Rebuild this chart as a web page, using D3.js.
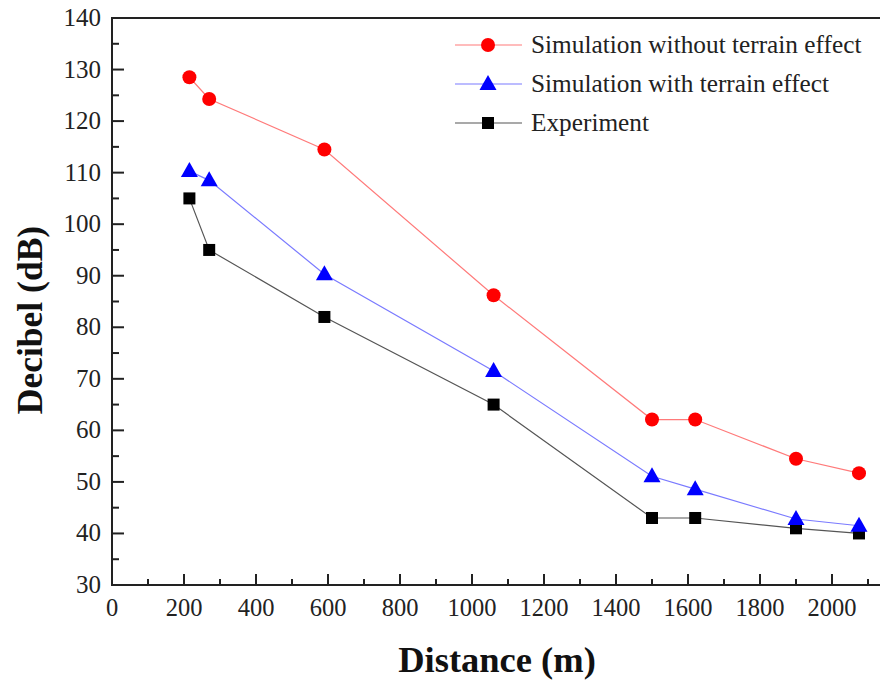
<!DOCTYPE html>
<html>
<head>
<meta charset="utf-8">
<script src="https://cdn.jsdelivr.net/npm/d3@7"></script>
<style>
  body { margin: 0; background: #fff; }
</style>
</head>
<body>
<div id="chart"></div>
<script>
const distance = [215, 270, 590, 1060, 1500, 1620, 1900, 2075];
const noTerrain = [128.5, 124.3, 114.5, 86.2, 62.1, 62.1, 54.5, 51.7];
const withTerrain = [110.3, 108.5, 90.3, 71.5, 51.1, 48.6, 42.8, 41.5];
const experiment = [105, 95, 82, 65, 43, 43, 41, 40];

const seriesNames = ['Simulation without terrain effect', 'Simulation with terrain effect', 'Experiment'];
const xTicks = [0, 200, 400, 600, 800, 1000, 1200, 1400, 1600, 1800, 2000];
const yTicks = [30, 40, 50, 60, 70, 80, 90, 100, 110, 120, 130, 140];

const FONT = 'Liberation Serif';
const W = 880, H = 681;
const svg = d3.select('#chart').append('svg')
  .attr('width', W).attr('height', H)
  .attr('font-family', FONT)
  .style('display', 'block');

const x = d3.scaleLinear().domain([0, 2200]).range([112, 904]);
const y = d3.scaleLinear().domain([30, 140]).range([585, 18]);

const series = [
  { name: seriesNames[0], values: noTerrain, line: '#ff7a7a', fill: '#ff0000', shape: 'circle' },
  { name: seriesNames[1], values: withTerrain, line: '#7a7aff', fill: '#0000ff', shape: 'triangle' },
  { name: seriesNames[2], values: experiment, line: '#555', fill: '#000', shape: 'square' }
];

// frame: left, bottom, top
const axisG = svg.append('g').attr('stroke', '#222').attr('stroke-width', 2).attr('fill', 'none');
axisG.append('line').attr('x1', x(0)).attr('x2', x(0)).attr('y1', y(30) + 1).attr('y2', y(140));
axisG.append('line').attr('x1', x(0) - 1).attr('x2', x(2200)).attr('y1', y(30)).attr('y2', y(30));
axisG.append('line').attr('x1', x(0) - 1).attr('x2', x(2200)).attr('y1', y(140)).attr('y2', y(140));

// x ticks (major + minor, inward)
d3.range(100, 2200, 100).forEach(v => {
  const major = v % 200 === 0;
  axisG.append('line').attr('x1', x(v)).attr('x2', x(v))
    .attr('y1', y(30)).attr('y2', y(30) - (major ? 11 : 6));
});
// y ticks (inward)
d3.range(35, 140, 5).forEach(v => {
  const major = v % 10 === 0;
  axisG.append('line').attr('x1', x(0)).attr('x2', x(0) + (major ? 12 : 7))
    .attr('y1', y(v)).attr('y2', y(v));
});

svg.append('g').selectAll('text').data(xTicks).join('text')
  .attr('font-family', FONT).attr('font-size', 24.5).attr('fill', '#222')
  .attr('x', d => x(d)).attr('y', y(30) + 31)
  .attr('text-anchor', 'middle')
  .text(d => d);

svg.append('g').selectAll('text').data(yTicks).join('text')
  .attr('font-family', FONT).attr('font-size', 25).attr('fill', '#222')
  .attr('x', x(0) - 11).attr('y', d => y(d) + 8)
  .attr('text-anchor', 'end')
  .text(d => d);

svg.append('text')
  .attr('font-family', FONT).attr('font-size', 36.5).attr('font-weight', 'bold').attr('fill', '#111')
  .attr('x', 497).attr('y', 672).attr('text-anchor', 'middle')
  .text('Distance (m)');
svg.append('text')
  .attr('font-family', FONT).attr('font-size', 35.5).attr('font-weight', 'bold').attr('fill', '#111')
  .attr('transform', 'translate(42,320) rotate(-90)')
  .attr('text-anchor', 'middle')
  .text('Decibel (dB)');

function drawMarker(g, shape, fill, cx, cy) {
  if (shape === 'circle') {
    g.append('circle').attr('cx', cx).attr('cy', cy).attr('r', 7).attr('fill', fill);
  } else if (shape === 'triangle') {
    g.append('path').attr('d', `M${cx},${cy - 9}L${cx + 8.5},${cy + 6}L${cx - 8.5},${cy + 6}Z`).attr('fill', fill);
  } else {
    g.append('rect').attr('x', cx - 6).attr('y', cy - 6).attr('width', 12).attr('height', 12).attr('fill', fill);
  }
}

const line = d3.line().x(d => x(d[0])).y(d => y(d[1]));

series.slice().reverse().forEach(s => {
  const pts = distance.map((d, i) => [d, s.values[i]]);
  svg.append('path').datum(pts).attr('d', line)
    .attr('fill', 'none').attr('stroke', s.line).attr('stroke-width', 1.2);
});
series.slice().reverse().forEach(s => {
  const g = svg.append('g');
  distance.forEach((d, i) => drawMarker(g, s.shape, s.fill, x(d), y(s.values[i])));
});

// legend
const legendY = [45, 84, 123];
series.forEach((s, i) => {
  const g = svg.append('g');
  g.append('line').attr('x1', 455).attr('x2', 522).attr('y1', legendY[i]).attr('y2', legendY[i])
    .attr('stroke', s.line).attr('stroke-width', 1.2);
  drawMarker(g, s.shape, s.fill, 488, legendY[i]);
  g.append('text')
    .attr('font-family', FONT).attr('font-size', 25.3).attr('fill', '#222')
    .attr('x', 531).attr('y', legendY[i] + 8).text(s.name);
});
</script>
</body>
</html>
